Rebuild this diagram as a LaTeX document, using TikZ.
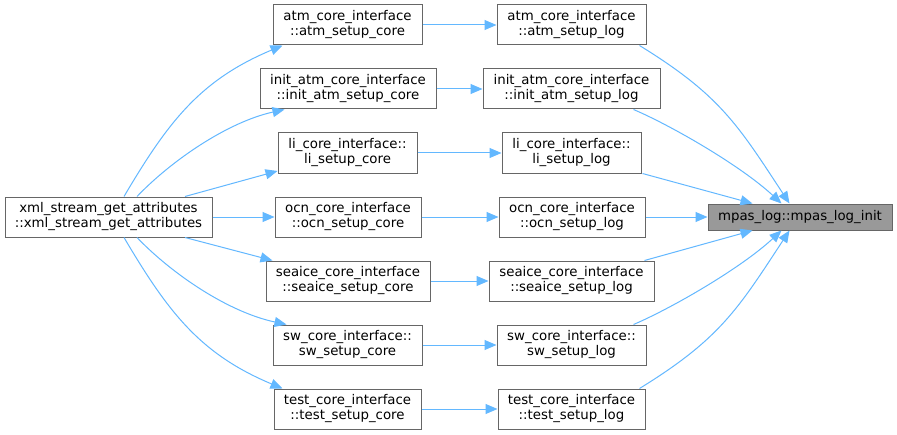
\documentclass[tikz,border=0pt]{standalone}
\usepackage{fontspec}
\setmainfont{DejaVu Sans}
\usetikzlibrary{arrows.meta,calc}
\definecolor{edgeblue}{HTML}{63B8FF}
\definecolor{boxline}{HTML}{666666}
\definecolor{mainfill}{HTML}{999999}
\begin{document}
\begin{tikzpicture}[x=0.75pt,y=-0.75pt,
  box/.style={draw=boxline, fill=white, line width=0.75pt, inner sep=0pt,
    minimum height=30pt, align=center, font=\fontsize{10}{11.25}\selectfont},
  mainbox/.style={box, fill=mainfill, minimum height=19.5pt},
  edge/.style={draw=edgeblue, line width=0.75pt,
    -{Triangle[length=9pt,width=7.5pt]}}]
\useasboundingbox (0,0) rectangle (897,435);
\fill[white] (0,0) rectangle (897,435);
% left node
\node[box, minimum width=155.25pt] (xml) at (108.5,217) {xml\_stream\_get\_attributes\\::xml\_stream\_get\_attributes};
% core column
\node[box, minimum width=111.75pt] (atmc)  at (347.5,25)  {atm\_core\_interface\\::atm\_setup\_core};
\node[box, minimum width=132pt]    (initc) at (348,89)    {init\_atm\_core\_interface\\::init\_atm\_setup\_core};
\node[box, minimum width=104.25pt] (lic)   at (347.5,153) {li\_core\_interface::\\li\_setup\_core};
\node[box, minimum width=109.5pt]  (ocnc)  at (348,217)   {ocn\_core\_interface\\::ocn\_setup\_core};
\node[box, minimum width=123pt]    (seac)  at (348,281)   {seaice\_core\_interface\\::seaice\_setup\_core};
\node[box, minimum width=111.75pt] (swc)   at (347.5,345) {sw\_core\_interface::\\sw\_setup\_core};
\node[box, minimum width=110.25pt] (testc) at (347.5,409) {test\_core\_interface\\::test\_setup\_core};
% log column
\node[box, minimum width=111.75pt] (atml)  at (571.5,25)  {atm\_core\_interface\\::atm\_setup\_log};
\node[box, minimum width=132.75pt] (initl) at (571.5,89)  {init\_atm\_core\_interface\\::init\_atm\_setup\_log};
\node[box, minimum width=104.25pt] (lil)   at (571.5,153) {li\_core\_interface::\\li\_setup\_log};
\node[box, minimum width=109.5pt]  (ocnl)  at (572,217)   {ocn\_core\_interface\\::ocn\_setup\_log};
\node[box, minimum width=123.75pt] (seal)  at (571.5,281) {seaice\_core\_interface\\::seaice\_setup\_log};
\node[box, minimum width=111.75pt] (swl)   at (571.5,345) {sw\_core\_interface::\\sw\_setup\_log};
\node[box, minimum width=110.25pt] (testl) at (571.5,409) {test\_core\_interface\\::test\_setup\_log};
% main node
\node[mainbox, minimum width=138pt] (mpas) at (800,217) {mpas\_log::mpas\_log\_init};
% xml -> core
\draw[edge] ($(xml.north)+(15.5,0)$) .. controls (168,122) and (200,80) .. ($(atmc.south west)+(10,0)$);
\draw[edge] ($(xml.north)+(28.5,0)$) .. controls (172,160) and (228,122) .. ($(initc.south west)+(25,0)$);
\draw[edge] ($(xml.north)+(76.5,0)$) -- ($(lic.west)+(0,18)$);
\draw[edge] (xml.east) -- (ocnc.west);
\draw[edge] ($(xml.south)+(76.5,0)$) -- ($(seac.north west)+(7,0)$);
\draw[edge] ($(xml.south)+(28.5,0)$) .. controls (172,274) and (228,312) .. ($(swc.north west)+(14,0)$);
\draw[edge] ($(xml.south)+(15.5,0)$) .. controls (168,312) and (200,354) .. ($(testc.north west)+(9,0)$);
% core -> log
\draw[edge] (atmc.east) -- (atml.west);
\draw[edge] (initc.east) -- (initl.west);
\draw[edge] (lic.east) -- (lil.west);
\draw[edge] (ocnc.east) -- (ocnl.west);
\draw[edge] (seac.east) -- (seal.west);
\draw[edge] (swc.east) -- (swl.west);
\draw[edge] (testc.east) -- (testl.west);
% log -> mpas
\draw[edge] ($(atml.south east)+(-7,0)$) .. controls (720,95) and (738,125) .. ($(mpas.north west)+(82,0)$);
\draw[edge] ($(initl.south east)+(-27,0)$) .. controls (670,125) and (740,165) .. ($(mpas.north west)+(74,0)$);
\draw[edge] ($(lil.south east)+(1,0)$) -- ($(mpas.north west)+(45,0)$);
\draw[edge] (ocnl.east) -- (mpas.west);
\draw[edge] ($(seal.north east)+(-10,0)$) -- ($(mpas.south west)+(45,0)$);
\draw[edge] ($(swl.north east)+(-13,0)$) .. controls (670,309) and (740,269) .. ($(mpas.south west)+(74,0)$);
\draw[edge] ($(testl.north east)+(-6,0)$) .. controls (720,339) and (738,309) .. ($(mpas.south west)+(82,0)$);
\end{tikzpicture}
\end{document}
